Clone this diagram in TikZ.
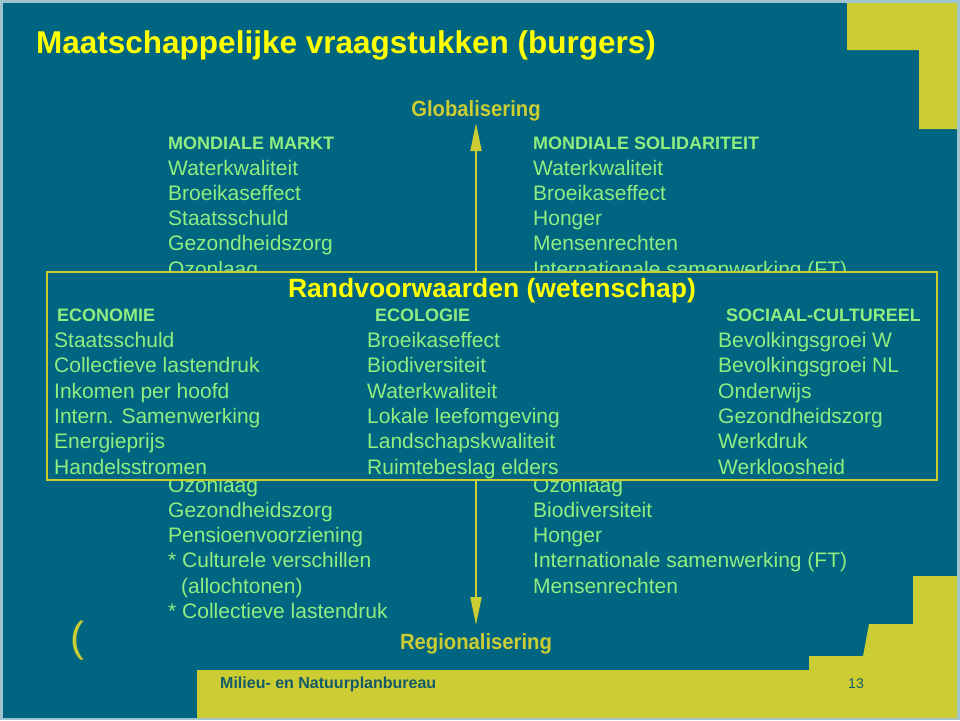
\documentclass[tikz,border=0pt]{standalone}
\usepackage{fontspec}
\setmainfont{Liberation Sans}
\newfontfamily\narrowfont[FakeStretch=0.92]{Liberation Sans}
\usetikzlibrary{arrows.meta}
\definecolor{slide}{RGB}{0,101,128}
\definecolor{edgec}{RGB}{160,196,206}
\definecolor{olive}{RGB}{204,204,51}
\definecolor{ttl}{RGB}{255,255,0}
\definecolor{grn}{RGB}{144,238,128}
\definecolor{foot}{RGB}{20,90,105}
\begin{document}
\begin{tikzpicture}[x=1pt,y=-1pt,
  item/.style={anchor=base west, inner sep=0pt, text=grn, font=\fontsize{21}{25}\selectfont},
  head/.style={anchor=base west, inner sep=0pt, text=grn, font=\fontsize{18}{22}\selectfont\bfseries},
  axislbl/.style={anchor=base, inner sep=0pt, text=olive, font=\narrowfont\bfseries\fontsize{22}{26}\selectfont},
  axisline/.style={draw=olive, line width=2pt, {Triangle[width=11pt,length=28pt]}-{Triangle[width=11pt,length=28pt]}},
  framebox/.style={draw=olive, fill=slide, line width=1.5pt, inner sep=0pt},
]
\useasboundingbox (0,0) rectangle (960,720);
% background
\fill[edgec] (0,0) rectangle (960,720);
\fill[slide] (3,3) rectangle (957,718);
% yellow decorations
\fill[olive] (847,3) -- (957,3) -- (957,129) -- (919,129) -- (919,50) -- (847,50) -- cycle;
\fill[olive] (197,670) -- (809,670) -- (809,656) -- (863,656) -- (869,624) -- (913,624)
  -- (913,576) -- (957,576) -- (957,718) -- (197,718) -- cycle;
% title
\node[anchor=base west, inner sep=0pt, text=ttl, font=\fontsize{31.5}{36}\selectfont\bfseries] (title) at (36,53.5) {Maatschappelijke vraagstukken (burgers)};
% upper lists
\node[head] (lh) at (168,149.5) {MONDIALE MARKT};
\foreach \t [count=\i from 0] in {Waterkwaliteit,Broeikaseffect,Staatsschuld,Gezondheidszorg,Ozonlaag}
  \node[item] (lu\i) at (168,175+25.3*\i) {\t};
\node[head] (rh) at (533,149.5) {MONDIALE SOLIDARITEIT};
\foreach \t [count=\i from 0] in {Waterkwaliteit,Broeikaseffect,Honger,Mensenrechten,Internationale samenwerking (FT)}
  \node[item] (ru\i) at (533,175+25.3*\i) {\t};
% lower lists
\foreach \t [count=\i from 0] in {Ozonlaag,Gezondheidszorg,Pensioenvoorziening,* Culturele verschillen}
  \node[item] (ll\i) at (168,492+25.3*\i) {\t};
\node[item] (ll4) at (181,593.2) {(allochtonen)};
\node[item] (ll5) at (168,618.5) {* Collectieve lastendruk};
\foreach \t [count=\i from 0] in {Ozonlaag,Biodiversiteit,Honger,Internationale samenwerking (FT),Mensenrechten}
  \node[item] (rl\i) at (533,492+25.3*\i) {\t};
% axis
\node[axislbl] (glob) at (476,116) {Globalisering};
\node[axislbl] (reg) at (476,649) {Regionalisering};
\coordinate (atop) at (476,123);
\coordinate (abot) at (476,625);
\draw[axisline] (atop) -- (abot);
% frame box
\node[framebox, minimum width=890pt, minimum height=208pt] (box) at (492,376) {};
\node[anchor=base, inner sep=0pt, text=ttl, font=\fontsize{26.5}{30}\selectfont\bfseries] (rv) at (492,297.5) {Randvoorwaarden (wetenschap)};
\node[head] (eh) at (57,321.5) {ECONOMIE};
\node[head] (ch) at (375,321.5) {ECOLOGIE};
\node[head] (sh) at (726,321.5) {SOCIAAL-CULTUREEL};
\foreach \t [count=\i from 0] in {Staatsschuld,Collectieve lastendruk,Inkomen per hoofd,Intern. Samenwerking,Energieprijs,Handelsstromen}
  \node[item] (e\i) at (54,347.3+25.4*\i) {\t};
\foreach \t [count=\i from 0] in {Broeikaseffect,Biodiversiteit,Waterkwaliteit,Lokale leefomgeving,Landschapskwaliteit,Ruimtebeslag elders}
  \node[item] (c\i) at (367,347.3+25.4*\i) {\t};
\foreach \t [count=\i from 0] in {Bevolkingsgroei W,Bevolkingsgroei NL,Onderwijs,Gezondheidszorg,Werkdruk,Werkloosheid}
  \node[item] (s\i) at (718,347.3+25.4*\i) {\t};
% misc
\node[anchor=base, inner sep=0pt, text=olive, font=\fontsize{42}{46}\selectfont] (paren) at (77,651) {(};
\node[anchor=base west, inner sep=0pt, text=foot, font=\fontsize{16}{19}\selectfont\bfseries] (footer) at (220,688.3) {Milieu- en Natuurplanbureau};
\node[anchor=base, inner sep=0pt, text=foot, font=\fontsize{14}{17}\selectfont] (pnum) at (856,688) {13};
\end{tikzpicture}
\end{document}
